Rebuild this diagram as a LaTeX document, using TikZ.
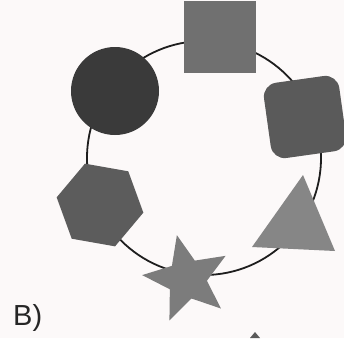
\documentclass[tikz,border=0pt]{standalone}
\usepackage{fontspec}
\setmainfont{Liberation Sans}
\definecolor{bgc}{RGB}{252,249,249}
\definecolor{sqc}{RGB}{112,112,112}
\definecolor{circc}{RGB}{58,58,58}
\definecolor{rsqc}{RGB}{90,90,90}
\definecolor{hexc}{RGB}{92,92,92}
\definecolor{tric}{RGB}{134,134,134}
\definecolor{starc}{RGB}{124,124,124}
\definecolor{ringc}{RGB}{30,30,30}
\begin{document}
\begin{tikzpicture}[x=1pt,y=-1pt,
  shapebox/.style={inner sep=0pt,outer sep=0pt,draw=none}]
\fill[bgc] (0,0) rectangle (344,338);
\useasboundingbox (0,0) rectangle (344,338);
% ring
\coordinate (ringc) at (204,158);
\draw[ringc,line width=1.8pt] (ringc) circle[radius=117];
% square
\node[shapebox,fill=sqc,rectangle,minimum size=72pt] (sq) at (220,36.5) {};
% dark circle
\node[shapebox,fill=circc,circle,minimum size=88pt] (dc) at (115,91) {};
% rounded square
\node[shapebox,fill=rsqc,rectangle,rounded corners=14pt,minimum size=76pt,rotate=8] (rsq) at (305,117) {};
% hexagon
\fill[hexc,shift={(100,205)}] (10:44) -- (70:44) -- (130:44) -- (190:44) -- (250:44) -- (310:44) -- cycle;
% triangle
\fill[tric] (303,175) -- (252,247) -- (335,251) -- cycle;
% star
\fill[starc,shift={(187,279)}] (257:45) -- (293:20) -- (329:45) -- (5:20) -- (41:45) -- (77:20) -- (113:45) -- (149:20) -- (185:45) -- (221:20) -- cycle;
% tip of a shape below
\fill[rsqc] (255,332) -- (250,338) -- (260,338) -- cycle;
% label
\node[anchor=base west,inner sep=0pt,font=\fontsize{29}{34}\selectfont,text=black!85] (lbl) at (13,325) {B)};
\end{tikzpicture}
\end{document}
